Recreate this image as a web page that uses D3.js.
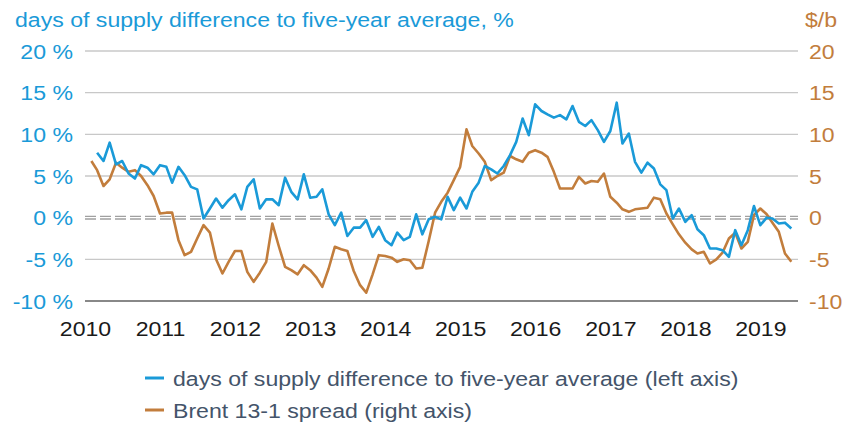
<!DOCTYPE html>
<html>
<head>
<meta charset="utf-8">
<script src="https://cdn.jsdelivr.net/npm/d3@7"></script>
<style>
  body { margin: 0; background: #fff; }
  svg text { font-family: "Liberation Sans", Arial, sans-serif; font-size: 21px; }
</style>
</head>
<body>
<svg id="chart" width="849" height="426"></svg>
<script>

// monthly values, days of supply difference to five-year average (%), from Mar 2010
const supplyStart = [2010, 2];
const supplyDiff = [
    7.8, 6.8, 9.0, 6.4, 6.8, 5.3, 4.7, 6.3, 6.0, 5.2,
    6.3, 6.1, 4.2, 6.1, 5.1, 3.7, 3.4, -0.1, 1.1, 2.3, 1.2, 2.1, 2.8, 1.0, 3.7, 4.6,
    1.1, 2.2, 2.2, 1.5, 4.8, 3.1, 2.2, 5.2, 2.4, 2.5, 3.4, 0.4,
    -0.9, 0.6, -2.2, -1.2, -1.2, -0.3, -2.3, -1.1, -2.7, -3.3, -1.8, -2.7,
    -2.3, 0.4, -2.0, -0.2, 0.1, -0.2, 2.5, 0.9, 2.4, 1.1, 3.1, 4.2,
    6.2, 5.8, 5.3, 6.2, 7.5, 9.1, 11.9, 9.9, 13.6, 12.8, 12.4, 12.0,
    12.3, 11.8, 13.4, 11.5, 11.0, 11.7, 10.5, 9.1, 10.4, 13.8, 8.9, 10.1,
    6.7, 5.4, 6.6, 5.9, 4.0, 3.3, -0.1, 1.1, -0.5, 0.3, -1.4, -2.1,
    -3.7, -3.7, -3.9, -4.7, -1.5, -3.3, -1.5, 1.4, -0.9, 0.0, -0.1, -0.7,
    -0.6, -1.3
];

// monthly Brent 13-1 spread ($/b), from Feb 2010
const brentStart = [2010, 1];
const brentSpread = [
    6.8, 5.7, 3.8, 4.6, 6.6, 6.0, 5.5, 5.7, 5.0, 3.9, 2.6,
    0.5, 0.6, 0.6, -2.7, -4.5, -4.1, -2.5, -0.9, -1.8, -5.0, -6.7, -5.3,
    -4.0, -4.0, -6.5, -7.7, -6.6, -5.3, -0.7, -3.4, -5.9, -6.3, -6.8, -5.7,
    -6.3, -7.2, -8.3, -6.1, -3.5, -3.8, -4.0, -6.4, -8.1, -9.0, -6.8, -4.5,
    -4.6, -4.8, -5.3, -5.0, -5.1, -6.1, -6.0, -2.8, 0.6, 1.9, 3.0, 4.5,
    6.1, 10.6, 8.6, 7.7, 6.7, 4.5, 5.0, 5.4, 7.4, 7.0, 6.7, 7.8,
    8.1, 7.8, 7.3, 5.5, 3.5, 3.5, 3.5, 4.9, 4.1, 4.4, 4.3, 5.3,
    2.5, 1.8, 1.0, 0.7, 1.0, 1.1, 1.2, 2.4, 2.2, 0.5, -0.8, -2.0,
    -3.0, -3.8, -4.3, -4.1, -5.5, -5.0, -4.2, -2.5, -1.8, -3.7, -2.9, 0.3,
    1.1, 0.4, -0.6, -1.7, -4.3, -5.3
];

const leftTicks = [-10, -5, 0, 5, 10, 15, 20];
const rightTicks = [-10, -5, 0, 5, 10, 15, 20];
const yearTicks = d3.range(2010, 2020);

const titleLeft = 'days of supply difference to five-year average, %';
const titleRight = '$/b';
const legendItems = [
    {name: 'days of supply difference to five-year average (left axis)', key: 'supply'},
    {name: 'Brent 13-1 spread (right axis)', key: 'brent'}
];

const colors = {supply: '#1a9ad8', brent: '#c27d3c', legendText: '#44546a'};

const plot = {left: 85, right: 798, top: 51, bottom: 301};
// the reference text is a bit wider than Arial, stretch it
const stretch = 'scale(1.1,1)';

const svg = d3.select('#chart');

const x = d3.scaleTime()
    .domain([new Date(2010, 0, 1), new Date(2019, 6, 1)])
    .range([plot.left, 797.5]);

const yLeft = d3.scaleLinear().domain([-10, 20]).range([plot.bottom, plot.top]);
const yRight = d3.scaleLinear().domain([-10, 20]).range([plot.bottom, plot.top]);

function toPoints(start, values) {
    return values.map(function(v, i) {
        return {date: new Date(start[0], start[1] + i, 1), value: v};
    });
}

function place(px, py) {
    return 'translate(' + px + ',' + py + ') ' + stretch;
}

const supplyPts = toPoints(supplyStart, supplyDiff);
const brentPts = toPoints(brentStart, brentSpread);

// gridlines
svg.append('g').selectAll('line')
    .data(leftTicks.filter(function(d) { return d !== 0 && d !== -10; }))
    .enter().append('line')
    .attr('x1', plot.left)
    .attr('x2', plot.right)
    .attr('y1', function(d) { return yLeft(d); })
    .attr('y2', function(d) { return yLeft(d); })
    .style('stroke', '#c8c8c8')
    .style('stroke-width', 1.3);

// zero line, double dashed
[-1.3, 1.3].forEach(function(off) {
    svg.append('line')
        .attr('x1', plot.left)
        .attr('x2', plot.right)
        .attr('y1', yLeft(0) + off)
        .attr('y2', yLeft(0) + off)
        .style('stroke', '#a0a0a0')
        .style('stroke-width', 1.4)
        .style('stroke-dasharray', '11,4');
});

// bottom axis line
svg.append('line')
    .attr('x1', plot.left)
    .attr('x2', plot.right)
    .attr('y1', yLeft(-10))
    .attr('y2', yLeft(-10))
    .style('stroke', '#606060')
    .style('stroke-width', 1.6);

// left axis labels
svg.append('g').selectAll('text')
    .data(leftTicks)
    .enter().append('text')
    .attr('transform', function(d) { return place(73, yLeft(d)); })
    .attr('dy', '0.36em')
    .attr('text-anchor', 'end')
    .style('fill', colors.supply)
    .text(function(d) { return d + ' %'; });

// right axis labels
svg.append('g').selectAll('text')
    .data(rightTicks)
    .enter().append('text')
    .attr('transform', function(d) { return place(809, yRight(d)); })
    .attr('dy', '0.36em')
    .style('fill', colors.brent)
    .text(function(d) { return d; });

// x axis
const xAxis = d3.axisBottom(x)
    .tickValues(yearTicks.map(function(yr) { return new Date(yr, 0, 1); }))
    .tickFormat(d3.timeFormat('%Y'))
    .tickSize(0)
    .tickPadding(0);

const xg = svg.append('g')
    .attr('transform', 'translate(0,' + 321 + ')')
    .call(xAxis);
xg.select('.domain').remove();
xg.selectAll('text')
    .attr('transform', stretch)
    .style('font-size', '21px')
    .style('font-family', '"Liberation Sans", Arial, sans-serif')
    .style('fill', '#1a1a1a');

// titles
svg.append('text')
    .attr('transform', place(15, 27))
    .style('fill', colors.supply)
    .text(titleLeft);

svg.append('text')
    .attr('transform', place(805, 27))
    .style('fill', colors.brent)
    .text(titleRight);

// lines
const lineLeft = d3.line()
    .x(function(d) { return x(d.date); })
    .y(function(d) { return yLeft(d.value); });
const lineRight = d3.line()
    .x(function(d) { return x(d.date); })
    .y(function(d) { return yRight(d.value); });

svg.append('path')
    .datum(brentPts)
    .attr('d', lineRight)
    .style('fill', 'none')
    .style('stroke', colors.brent)
    .style('stroke-width', 2.6)
    .style('stroke-linejoin', 'round');

svg.append('path')
    .datum(supplyPts)
    .attr('d', lineLeft)
    .style('fill', 'none')
    .style('stroke', colors.supply)
    .style('stroke-width', 2.6)
    .style('stroke-linejoin', 'round');

// legend
const legend = svg.append('g').selectAll('g')
    .data(legendItems)
    .enter().append('g')
    .attr('transform', function(d, i) { return 'translate(145,' + (378 + i * 32) + ')'; });

legend.append('line')
    .attr('x1', 0)
    .attr('x2', 19)
    .style('stroke', function(d) { return colors[d.key]; })
    .style('stroke-width', 3);

legend.append('text')
    .attr('transform', 'translate(28,0) ' + stretch)
    .attr('dy', '0.36em')
    .style('fill', colors.legendText)
    .text(function(d) { return d.name; });

</script>
</body>
</html>
